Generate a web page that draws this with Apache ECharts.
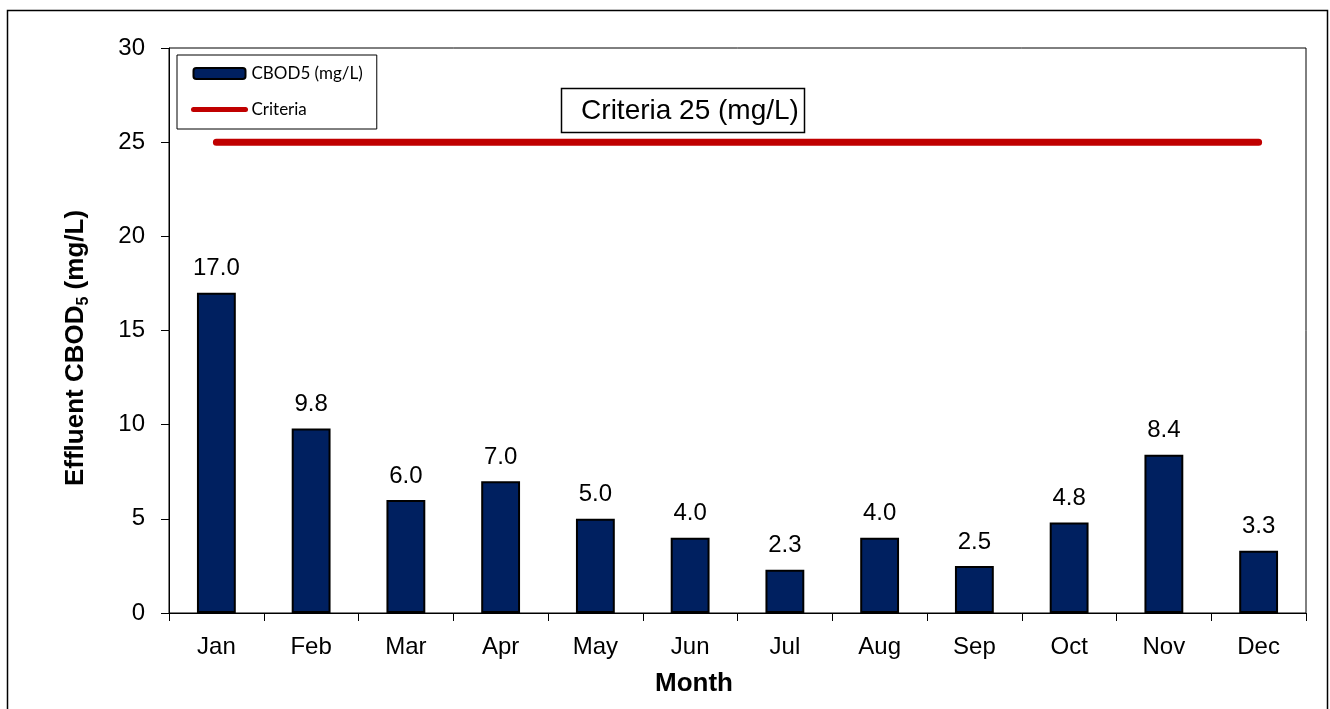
<!DOCTYPE html>
<html>
<head>
<meta charset="utf-8">
<style>
  html, body { margin: 0; padding: 0; background: #fff; }
  #chart { width: 1330px; height: 709px; }
</style>
<script src="https://cdn.jsdelivr.net/npm/echarts@6/dist/echarts.min.js"></script>
</head>
<body>
<div id="chart"></div>
<script>
// Monthly effluent CBOD5 against the 25 mg/L permit criteria
const months = ['Jan', 'Feb', 'Mar', 'Apr', 'May', 'Jun', 'Jul', 'Aug', 'Sep', 'Oct', 'Nov', 'Dec'];
const cbod5 = [17.0, 9.8, 6.0, 7.0, 5.0, 4.0, 2.3, 4.0, 2.5, 4.8, 8.4, 3.3];
const criteria = [25, 25, 25, 25, 25, 25, 25, 25, 25, 25, 25, 25];
const yTicks = { min: 0, max: 30, interval: 5 };

const FONT = '"Liberation Sans", Arial, sans-serif';
const LEGEND_FONT = 'Lato, "Noto Sans", sans-serif';

const chart = echarts.init(document.getElementById('chart'), null, { renderer: 'canvas' });

chart.setOption({
  animation: false,
  backgroundColor: '#ffffff',
  grid: {
    left: 169, right: 24, top: 48, bottom: 96,
    show: true, borderColor: '#000', borderWidth: 1, backgroundColor: 'transparent'
  },
  legend: {
    orient: 'vertical',
    left: 177, top: 55,
    padding: [10, 14, 11, 14],
    itemWidth: 52, itemHeight: 11, itemGap: 19,
    borderColor: '#000', borderWidth: 1,
    backgroundColor: '#fff',
    textStyle: { fontFamily: LEGEND_FONT, fontSize: 17, color: '#000', padding: [0, 0, 0, 1] },
    data: [
      { name: 'CBOD5 (mg/L)' },
      { name: 'Criteria', itemStyle: { opacity: 0 }, lineStyle: { width: 5, cap: 'round', color: '#C00000' } }
    ]
  },
  xAxis: {
    type: 'category',
    data: months,
    boundaryGap: true,
    axisLine: { lineStyle: { color: '#000', width: 1 } },
    axisTick: { show: true, length: 8, inside: false, alignWithLabel: false, lineStyle: { color: '#000' } },
    axisLabel: { fontFamily: FONT, fontSize: 24, color: '#000', margin: 22 },
    splitLine: { show: false }
  },
  yAxis: {
    type: 'value',
    min: yTicks.min, max: yTicks.max, interval: yTicks.interval,
    axisLine: { show: true, lineStyle: { color: '#000', width: 1 } },
    axisTick: { show: true, length: 8, lineStyle: { color: '#000' } },
    axisLabel: { fontFamily: FONT, fontSize: 24, color: '#000', margin: 24 },
    splitLine: { show: false }
  },
  series: [
    {
      name: 'CBOD5 (mg/L)',
      type: 'bar',
      data: cbod5,
      barWidth: '41%',
      itemStyle: { color: '#002060', borderColor: '#000', borderWidth: 2 },
      label: {
        show: true, position: 'top', distance: 12,
        fontFamily: FONT, fontSize: 24, color: '#000',
        formatter: p => p.value.toFixed(1)
      },
      z: 2
    },
    {
      name: 'Criteria',
      type: 'line',
      data: criteria,
      symbol: 'none',
      lineStyle: { color: '#C00000', width: 7, cap: 'round' },
      itemStyle: { color: '#C00000' },
      z: 3
    }
  ],
  graphic: [
    // outer chart frame
    { type: 'rect', shape: { x: 7.5, y: 10.5, width: 1320, height: 720 },
      style: { fill: 'none', stroke: '#000', lineWidth: 1.5 }, silent: true, z: 0 },
    // criteria annotation box
    { type: 'rect', shape: { x: 561.5, y: 88.5, width: 243, height: 44 },
      style: { fill: '#fff', stroke: '#000', lineWidth: 1.5 }, z: 10 },
    { type: 'text', x: 690, y: 111, z: 11,
      style: { text: 'Criteria 25 (mg/L)', font: '28px ' + FONT, fill: '#000',
               align: 'center', verticalAlign: 'middle' } },
    // axis titles
    { type: 'text', x: 694, y: 684, z: 11,
      style: { text: 'Month', font: 'bold 26px ' + FONT, fill: '#000',
               align: 'center', verticalAlign: 'middle' } },
    { type: 'text', x: 76, y: 348, rotation: Math.PI / 2, z: 11,
      style: {
        text: '{t|Effluent CBOD}{s|5}{t| (mg/L)}',
        align: 'center', verticalAlign: 'middle',
        rich: {
          t: { font: 'bold 26px ' + FONT, fill: '#000', color: '#000' },
          s: { font: 'bold 16px ' + FONT, fill: '#000', color: '#000', padding: [15, 0, 0, 0] }
        }
      } }
  ]
});
</script>
</body>
</html>
